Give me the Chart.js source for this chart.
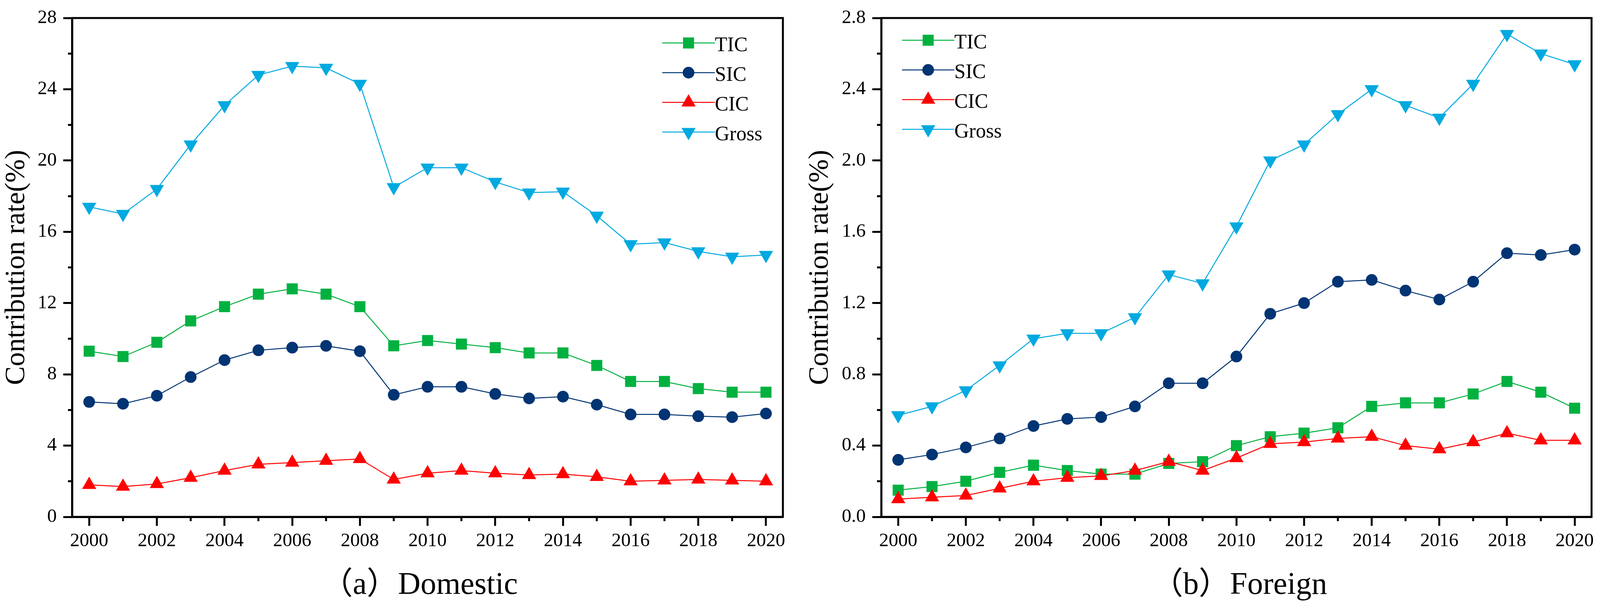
<!DOCTYPE html>
<html><head><meta charset="utf-8">
<script src="https://cdn.jsdelivr.net/npm/chart.js@4.4.1/dist/chart.umd.min.js"></script>
<style>
html,body{margin:0;padding:0;background:#fff;overflow:hidden;}
#wrap{position:relative;width:100vw;height:1546px;overflow:hidden;background:#fff;}
canvas{position:absolute;top:0;}
.cap{position:absolute;font-family:"Liberation Serif","Noto Sans CJK SC",serif;font-size:80px;line-height:80px;white-space:nowrap;color:#000;transform:translateX(-50%);}
</style></head><body>
<div id="wrap">
<canvas id="c1"></canvas>
<canvas id="c2"></canvas>
<div class="cap" id="cap1" style="top:1453px">（a）Domestic</div>
<div class="cap" id="cap2" style="top:1453px">（b）Foreign</div>
</div>
<script>
const years = [2000,2001,2002,2003,2004,2005,2006,2007,2008,2009,2010,2011,2012,2013,2014,2015,2016,2017,2018,2019,2020];
const seriesNames = ['TIC','SIC','CIC','Gross'];

const domTIC   = [9.3, 9.0, 9.8, 11.0, 11.8, 12.5, 12.8, 12.5, 11.8, 9.6, 9.9, 9.7, 9.5, 9.2, 9.2, 8.5, 7.6, 7.6, 7.2, 7.0, 7.0];
const domSIC   = [6.45, 6.35, 6.8, 7.85, 8.8, 9.35, 9.5, 9.6, 9.3, 6.85, 7.3, 7.3, 6.9, 6.65, 6.75, 6.3, 5.75, 5.75, 5.65, 5.6, 5.8];
const domCIC   = [1.8, 1.7, 1.85, 2.2, 2.6, 2.95, 3.05, 3.15, 3.25, 2.1, 2.45, 2.6, 2.45, 2.35, 2.4, 2.25, 2.0, 2.05, 2.1, 2.05, 2.0];
const domGross = [17.4, 17.0, 18.4, 20.9, 23.1, 24.8, 25.3, 25.2, 24.3, 18.5, 19.6, 19.6, 18.8, 18.2, 18.25, 16.9, 15.3, 15.4, 14.9, 14.6, 14.7];

const forTIC   = [0.15, 0.17, 0.20, 0.25, 0.29, 0.26, 0.24, 0.24, 0.30, 0.31, 0.40, 0.45, 0.47, 0.50, 0.62, 0.64, 0.64, 0.69, 0.76, 0.70, 0.61];
const forSIC   = [0.32, 0.35, 0.39, 0.44, 0.51, 0.55, 0.56, 0.62, 0.75, 0.75, 0.90, 1.14, 1.20, 1.32, 1.33, 1.27, 1.22, 1.32, 1.48, 1.47, 1.50];
const forCIC   = [0.10, 0.11, 0.12, 0.16, 0.20, 0.22, 0.23, 0.26, 0.31, 0.26, 0.33, 0.41, 0.42, 0.44, 0.45, 0.40, 0.38, 0.42, 0.47, 0.43, 0.43];
const forGross = [0.57, 0.62, 0.71, 0.85, 1.00, 1.03, 1.03, 1.12, 1.36, 1.31, 1.63, 2.00, 2.09, 2.26, 2.40, 2.31, 2.24, 2.43, 2.71, 2.60, 2.54];

const domMinorTicks = [2, 6, 10, 14, 18, 22, 26];
const forMinorTicks = [0.2, 0.6, 1.0, 1.4, 1.8, 2.2, 2.6];

const COLORS = {TIC:'#00B140', SIC:'#003473', CIC:'#FF0000', Gross:'#00A9E0'};
const FONT = '"Liberation Serif", serif';

// layout measured on a 4163-wide reference; scale horizontally to the actual viewport
const VW = window.innerWidth || 4163;
const VH = 1546;
const kx = VW / 4163;
const c1w = Math.round(2080 * kx);
const c2l = c1w, c2w = VW - c1w;

function setupCanvas(id, left, w) {
  const c = document.getElementById(id);
  c.width = w; c.height = VH;
  c.style.left = left + 'px'; c.style.width = w + 'px'; c.style.height = VH + 'px';
  return c;
}
setupCanvas('c1', 0, c1w);
setupCanvas('c2', c2l, c2w);
document.getElementById('cap1').style.left = (1092 * kx) + 'px';
document.getElementById('cap2').style.left = (3225 * kx) + 'px';

function ds(name, data, style, radius, rotation, order) {
  return {
    label: name, data: data, order: order,
    borderColor: COLORS[name], backgroundColor: COLORS[name],
    borderWidth: 2.5, tension: 0, fill: false,
    pointStyle: style, pointRadius: radius, pointHoverRadius: radius,
    pointRotation: rotation, pointBackgroundColor: COLORS[name], pointBorderWidth: 0
  };
}

const framePlugin = {
  id: 'frame',
  beforeDatasetsDraw(chart) {
    const {ctx, chartArea: a} = chart;
    ctx.save();
    ctx.strokeStyle = '#000'; ctx.lineWidth = 5;
    ctx.strokeRect(a.left, a.top, a.right - a.left, a.bottom - a.top);
    ctx.restore();
  }
};

const minorPlugin = {
  id: 'minor',
  afterDraw(chart, args, opts) {
    const {ctx, chartArea: a, scales} = chart;
    ctx.save();
    ctx.strokeStyle = '#000'; ctx.lineWidth = 5;
    ctx.beginPath();
    for (let i = 1; i < years.length; i += 2) {
      const px = scales.x.getPixelForValue(i);
      ctx.moveTo(px, a.bottom + 2); ctx.lineTo(px, a.bottom + 11);
    }
    opts.values.forEach(v => {
      const py = scales.y.getPixelForValue(v);
      ctx.moveTo(a.left - 2, py); ctx.lineTo(a.left - 11, py);
    });
    ctx.stroke();
    ctx.restore();
  }
};

const legendPlugin = {
  id: 'lineLegend',
  afterDatasetsDraw(chart, args, opts) {
    const ctx = chart.ctx;
    ctx.save();
    chart.data.datasets.forEach((d, i) => {
      const y = opts.y0 + i * opts.dy;
      ctx.strokeStyle = d.borderColor; ctx.lineWidth = d.borderWidth;
      ctx.beginPath(); ctx.moveTo(opts.x0, y); ctx.lineTo(opts.x1, y); ctx.stroke();
      ctx.fillStyle = d.pointBackgroundColor;
      Chart.helpers.drawPoint(ctx, {pointStyle: d.pointStyle, radius: d.pointRadius, rotation: d.pointRotation, borderWidth: 0}, (opts.x0 + opts.x1) / 2, y);
      ctx.fillStyle = '#000';
      ctx.font = '52px ' + FONT;
      ctx.textAlign = 'left'; ctx.textBaseline = 'alphabetic';
      ctx.fillText(d.label, opts.x1, y + 21);
    });
    ctx.restore();
  }
};

function makeChart(id, vals, cfg) {
  return new Chart(document.getElementById(id), {
    type: 'line',
    data: {
      labels: years,
      datasets: [
        ds('TIC', vals[0], 'rect', 20, 0, 4),
        ds('SIC', vals[1], 'circle', 15, 0, 3),
        ds('CIC', vals[2], 'triangle', 21, 0, 2),
        ds('Gross', vals[3], 'triangle', 21, 180, 1)
      ]
    },
    options: {
      responsive: false, animation: false, devicePixelRatio: 1,
      layout: {autoPadding: false, padding: {left: 0, top: 35, right: cfg.right, bottom: 0}},
      plugins: {
        legend: {display: false}, tooltip: {enabled: false}, title: {display: false},
        minor: {values: cfg.minor},
        lineLegend: cfg.legend
      },
      scales: {
        x: {
          type: 'category', offset: true,
          grid: {display: true, drawOnChartArea: false, drawTicks: true, offset: false, tickLength: 23, tickWidth: 5,
                 tickColor: c => (c.index % 2 ? 'rgba(0,0,0,0)' : '#000')},
          border: {display: true, width: 5, color: '#000'},
          ticks: {autoSkip: false, maxRotation: 0, minRotation: 0, padding: 10, color: '#000',
                  font: {family: FONT, size: 49},
                  callback: (v, i) => (i % 2 ? '' : String(years[i]))},
          afterFit: s => { s.height = 223; }
        },
        y: {
          type: 'linear', min: 0, max: cfg.ymax,
          grid: {display: true, drawOnChartArea: false, drawTicks: true, tickLength: 23, tickWidth: 5, tickColor: '#000'},
          border: {display: true, width: 5, color: '#000'},
          ticks: {stepSize: cfg.step, padding: 17 * kx, color: '#000', font: {family: FONT, size: 49},
                  callback: v => cfg.fmt(v)},
          title: {display: true, text: 'Contribution rate(%)', color: '#000',
                  font: {family: FONT, size: 72, lineHeight: 1.2}, padding: {top: cfg.titlePad, bottom: 0}},
          afterFit: s => { s.width = cfg.yw; }
        }
      }
    },
    plugins: [framePlugin, minorPlugin, legendPlugin]
  });
}

makeChart('c1', [domTIC, domSIC, domCIC, domGross], {
  right: c1w - 2037 * kx, yw: 188 * kx, ymax: 28, step: 4, fmt: v => String(Math.round(v)),
  titlePad: Math.max(0, 43 * kx - 43.2),
  minor: domMinorTicks,
  legend: {x0: 1723 * kx, x1: 1860 * kx, y0: 110, dy: 76}
});
makeChart('c2', [forTIC, forSIC, forCIC, forGross], {
  right: c2w - (4141 * kx - c2l), yw: 2293 * kx - c2l, ymax: 2.8, step: 0.4, fmt: v => v.toFixed(1),
  titlePad: Math.max(0, 2134 * kx - c2l - 43.2),
  minor: forMinorTicks,
  legend: {x0: 2347 * kx - c2l, x1: 2483 * kx - c2l, y0: 103, dy: 76}
});
</script>
</body></html>
